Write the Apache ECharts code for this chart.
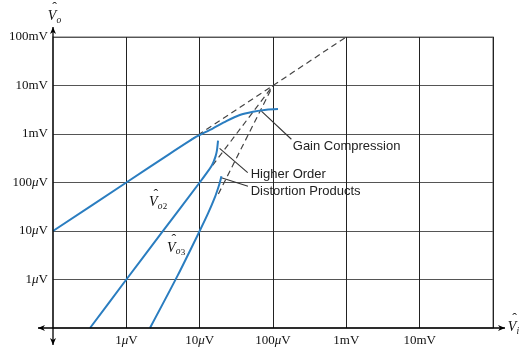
<!DOCTYPE html>
<html><head><meta charset="utf-8">
<script src="https://cdn.jsdelivr.net/npm/echarts@6/dist/echarts.min.js"></script>
<style>html,body{margin:0;padding:0;background:#fff}#c{width:522px;height:347px}</style>
</head><body><div id="c"></div>
<script>
// Tick labels by decade exponent (10^n volts)
const xTickLabels = { '-6': '1{mu|μ}V', '-5': '10{mu|μ}V', '-4': '100{mu|μ}V', '-3': '1mV', '-2': '10mV' };
const yTickLabels = { '-6': '1{mu|μ}V', '-5': '10{mu|μ}V', '-4': '100{mu|μ}V', '-3': '1mV', '-2': '10mV', '-1': '100mV' };

// Fundamental output vs input amplitude (V)
const fundVi = [1e-7, 1e-6, 3.9e-6, 9e-6, 1.11e-5, 1.52e-5, 2.31e-5, 3.52e-5, 5.34e-5, 8.13e-5, 1.17e-4];
const fundVo = [1e-5, 1e-4, 3.9e-4, 8.8e-4, 1.03e-3, 1.31e-3, 1.85e-3, 2.47e-3, 2.88e-3, 3.17e-3, 3.27e-3];

// Second-order product
const vo2Vi = [3.2e-7, 1e-6, 3e-6, 1e-5, 1.3e-5, 1.45e-5, 1.55e-5, 1.65e-5, 1.72e-5, 1.78e-5];
const vo2Vo = [1e-7, 1e-6, 9e-6, 1e-4, 1.72e-4, 2.2e-4, 2.7e-4, 3.5e-4, 4.6e-4, 7.3e-4];

// Third-order product
const vo3Vi = [2.1e-6, 5e-6, 1e-5, 1.3e-5, 1.6e-5, 1.8e-5, 1.9e-5, 1.98e-5];
const vo3Vo = [1e-7, 1.2e-6, 1e-5, 2.3e-5, 4.8e-5, 8e-5, 1.05e-4, 1.35e-4];

// Extrapolated (small-signal) asymptotes meeting at the intercept point
const asym1Vi = [7.3e-6, 1e-3];   const asym1Vo = [7.3e-4, 1e-1];
const asym2Vi = [1.5e-5, 1e-4];   const asym2Vo = [2.25e-4, 1e-2];
const asym3Vi = [1.8e-5, 1e-4];   const asym3Vo = [5.8e-5, 1e-2];

// Callout leader lines
const gainLeadVi = [6.95e-5, 1.78e-4];  const gainLeadVo = [2.95e-3, 7.8e-4];
const hoLeadVi = [1.87e-5, 4.52e-5];    const hoLeadVo = [5.07e-4, 1.6e-4];
const dpLeadVi = [1.98e-5, 4.56e-5];    const dpLeadVo = [1.25e-4, 8.4e-5];

// Callout texts, anchored at their left edge
const callouts = [
  { text: 'Gain Compression', at: [1.86e-4, 5.5e-4] },
  { text: 'Higher Order', at: [4.97e-5, 1.48e-4] },
  { text: 'Distortion Products', at: [4.97e-5, 6.6e-5] }
];
// Curve name labels (centre)
const curveNames = [
  { sub: 'o', num: '2', at: [2.65e-6, 3.9e-5] },
  { sub: 'o', num: '3', at: [4.65e-6, 4.5e-6] }
];

const zip = (a, b) => a.map((v, i) => [v, b[i]]);
const BLUE = '#2a7dc0';

const chart = echarts.init(document.getElementById('c'), null, { renderer: 'canvas' });

const labelRich = { mu: { fontStyle: 'italic', fontFamily: 'Liberation Serif', fontSize: 13, color: '#111' } };

function curve(vi, vo) {
  return { type: 'line', data: zip(vi, vo), symbol: 'none', smooth: 0.25,
    lineStyle: { color: BLUE, width: 2 }, z: 5, silent: true };
}
function dashed(vi, vo) {
  return { type: 'line', data: zip(vi, vo), symbol: 'none',
    lineStyle: { color: '#444', width: 1.2, type: [6, 4] }, z: 4, silent: true };
}
function leader(vi, vo) {
  return { type: 'line', data: zip(vi, vo), symbol: 'none',
    lineStyle: { color: '#333', width: 1.1 }, z: 4, silent: true };
}

chart.setOption({
  animation: false,
  grid: { left: 53, right: 29, top: 37, bottom: 19, show: true, borderColor: '#999', borderWidth: 1.6 },
  xAxis: {
    type: 'log', logBase: 10, min: 1e-7, max: 1e-1, interval: 1,
    axisLine: { show: false }, axisTick: { show: false },
    splitLine: { show: true, showMinLine: false, showMaxLine: false, lineStyle: { color: '#222', width: 1 } },
    axisLabel: {
      margin: 6, fontFamily: 'Liberation Serif', fontSize: 13, color: '#111', rich: labelRich,
      formatter: v => xTickLabels[String(Math.round(Math.log10(v)))] || ''
    }
  },
  yAxis: {
    type: 'log', logBase: 10, min: 1e-7, max: 1e-1, interval: 1,
    axisLine: { show: false }, axisTick: { show: false },
    splitLine: { show: true, showMinLine: false, showMaxLine: false, lineStyle: { color: '#555', width: 1.2 } },
    axisLabel: {
      margin: 5, fontFamily: 'Liberation Serif', fontSize: 13, color: '#111', rich: labelRich,
      formatter: v => yTickLabels[String(Math.round(Math.log10(v)))] || ''
    }
  },
  series: [
    dashed(asym1Vi, asym1Vo), dashed(asym2Vi, asym2Vo), dashed(asym3Vi, asym3Vo),
    leader(gainLeadVi, gainLeadVo), leader(hoLeadVi, hoLeadVo), leader(dpLeadVi, dpLeadVo),
    curve(fundVi, fundVo), curve(vo2Vi, vo2Vo), curve(vo3Vi, vo3Vo)
  ]
});

// Hatted amplitude symbol: V with circumflex and subscript
function hatSym(px, py, sub, num) {
  const t = (x, y, text, font, align) => ({ type: 'text', x, y, style: { text, font, fill: '#111', align, verticalAlign: 'middle', textAlign: align, textVerticalAlign: 'middle' } });
  const kids = [
    t(0, 0, 'V', 'italic 14px "Liberation Serif"', 'center'),
    t(2.5, -7.5, 'ˆ', '14px "Liberation Serif"', 'center'),
    t(4.5, 4, sub, 'italic 9.5px "Liberation Serif"', 'left')
  ];
  if (num) kids.push(t(9.5, 4.5, num, '9px "Liberation Serif"', 'left'));
  return { type: 'group', x: px, y: py, z: 100, children: kids };
}

function arrowHead(tipX, tipY, dx, dy) {
  // dx,dy: unit direction the arrow points to
  const L = 7, W = 3;
  const bx = tipX - dx * L, by = tipY - dy * L;
  const nx = -dy, ny = dx;
  return { type: 'polygon', z: 100, shape: { points: [[tipX, tipY], [bx + nx * W, by + ny * W], [tipX - dx * L * 0.7, tipY - dy * L * 0.7], [bx - nx * W, by - ny * W]] }, style: { fill: '#000' } };
}

const p0 = chart.convertToPixel({ gridIndex: 0 }, [1e-7, 1e-7]);
const p1 = chart.convertToPixel({ gridIndex: 0 }, [1e-1, 1e-1]);
const gfx = [];
// Axes extending past the plotting area, arrowed at both ends
const xl = p0[0] - 15, xr = p1[0] + 12, yb = p0[1] + 17, yt = p1[1] - 10;
gfx.push({ type: 'line', z: 99, shape: { x1: xl, y1: p0[1], x2: xr, y2: p0[1] }, style: { stroke: '#000', lineWidth: 1.3 } });
gfx.push({ type: 'line', z: 99, shape: { x1: p0[0], y1: yb, x2: p0[0], y2: yt }, style: { stroke: '#000', lineWidth: 1.3 } });
gfx.push(arrowHead(xl, p0[1], -1, 0), arrowHead(xr, p0[1], 1, 0));
gfx.push(arrowHead(p0[0], yb, 0, 1), arrowHead(p0[0], yt, 0, -1));
// Axis titles
gfx.push(hatSym(p0[0] - 1, p1[1] - 21, 'o'));
gfx.push(hatSym(xr + 7, p0[1] - 1, 'i'));
// Curve names
curveNames.forEach(c => {
  const p = chart.convertToPixel({ gridIndex: 0 }, c.at);
  gfx.push(hatSym(p[0] - 4, p[1], c.sub, c.num));
});
// Callouts
callouts.forEach(c => {
  const p = chart.convertToPixel({ gridIndex: 0 }, c.at);
  gfx.push({ type: 'text', x: p[0], y: p[1], z: 100, style: { text: c.text, font: '13px "Liberation Sans"', fill: '#222', align: 'left', verticalAlign: 'middle', textAlign: 'left', textVerticalAlign: 'middle' } });
});
chart.setOption({ graphic: gfx });
</script>
</body></html>
